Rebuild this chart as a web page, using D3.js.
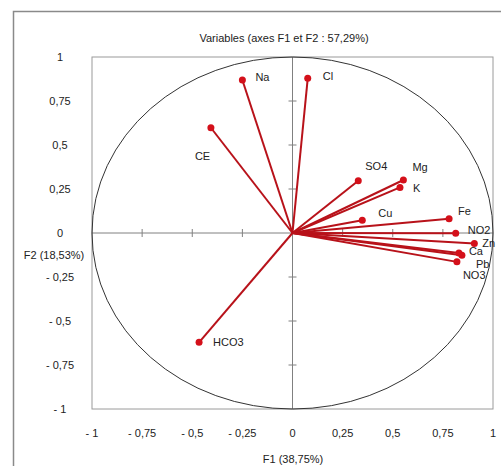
<!DOCTYPE html>
<html>
<head>
<meta charset="utf-8">
<script src="https://cdn.jsdelivr.net/npm/d3@7"></script>
<style>
  body { margin: 0; background: #fff; }
  text { font-family: "Liberation Sans", Arial, sans-serif; font-size: 11px; fill: #222; }
</style>
</head>
<body>
<svg width="501" height="466"></svg>
<script>
var names = ["Na", "Cl", "CE", "SO4", "Mg", "K", "Cu", "Fe", "NO2", "Zn", "Ca", "Pb", "NO3", "HCO3"];
var f1 = [-0.250, 0.076, -0.407, 0.328, 0.553, 0.536, 0.348, 0.781, 0.814, 0.907, 0.845, 0.830, 0.820, -0.466];
var f2 = [0.869, 0.879, 0.598, 0.297, 0.301, 0.259, 0.072, 0.081, -0.002, -0.059, -0.127, -0.114, -0.164, -0.621];
var tickVals = [-1, -0.75, -0.5, -0.25, 0, 0.25, 0.5, 0.75, 1];
var tickText = ["- 1", "- 0,75", "- 0,5", "- 0,25", "0", "0,25", "0,5", "0,75", "1"];

// label offsets from the point (dx, dy)
var labelOff = {
  Na: [13, 1], Cl: [15, 2], CE: [-16, 32], SO4: [7, -11], Mg: [9, -9], K: [13, 5],
  Cu: [16, -3], Fe: [9, -4], NO2: [12, 1], Zn: [8, 4], Ca: [7, 0], Pb: [17, 15],
  NO3: [6, 17], HCO3: [14, 4]
};

var svg = d3.select("svg");

var x = d3.scaleLinear().domain([-1, 1]).range([92, 493]);
var y = d3.scaleLinear().domain([-1, 1]).range([409, 57]);

// outer frame
svg.append("rect")
  .attr("x", 13.5).attr("y", 11.5)
  .attr("width", 520).attr("height", 480)
  .attr("fill", "none").attr("stroke", "#8a8a8a").attr("stroke-width", 1.5);

svg.append("text")
  .attr("x", 284).attr("y", 42)
  .attr("text-anchor", "middle")
  .text("Variables (axes F1 et F2 : 57,29%)");

// plot area
svg.append("rect")
  .attr("x", x(-1)).attr("y", y(1))
  .attr("width", x(1) - x(-1)).attr("height", y(-1) - y(1))
  .attr("fill", "none").attr("stroke", "#9a9a9a").attr("stroke-width", 1);

// axes through origin
svg.append("line")
  .attr("x1", x(-1)).attr("x2", x(1)).attr("y1", y(0)).attr("y2", y(0))
  .attr("stroke", "#808080");
svg.append("line")
  .attr("x1", x(0)).attr("x2", x(0)).attr("y1", y(1)).attr("y2", y(-1))
  .attr("stroke", "#808080");

var inner = tickVals.filter(function(d) { return d != 0 && Math.abs(d) != 1; });
svg.selectAll(".xt").data(inner).enter().append("line")
  .attr("x1", function(d) { return x(d); }).attr("x2", function(d) { return x(d); })
  .attr("y1", y(0) - 4).attr("y2", y(0) + 4)
  .attr("stroke", "#808080");
svg.selectAll(".yt").data(inner).enter().append("line")
  .attr("y1", function(d) { return y(d); }).attr("y2", function(d) { return y(d); })
  .attr("x1", x(0) - 4).attr("x2", x(0) + 4)
  .attr("stroke", "#808080");

// correlation circle
svg.append("ellipse")
  .attr("cx", x(0)).attr("cy", y(0))
  .attr("rx", x(1) - x(0)).attr("ry", y(0) - y(1))
  .attr("fill", "none").attr("stroke", "#333").attr("stroke-width", 1);

// tick labels
svg.selectAll(".xl").data(tickVals).enter().append("text")
  .attr("x", function(d) { return x(d); })
  .attr("y", 437)
  .attr("text-anchor", "middle")
  .text(function(d, i) { return tickText[i]; });
svg.selectAll(".yl").data(tickVals).enter().append("text")
  .attr("x", 60)
  .attr("y", function(d) { return y(d) + 4; })
  .attr("text-anchor", "middle")
  .text(function(d, i) { return tickText[i]; });

svg.append("text").attr("x", 293).attr("y", 463).attr("text-anchor", "middle").text("F1 (38,75%)");
svg.append("text").attr("x", 54).attr("y", 259).attr("text-anchor", "middle").text("F2 (18,53%)");

// vectors
var vars = names.map(function(n, i) { return { name: n, a: f1[i], b: f2[i] }; });

svg.selectAll(".vec").data(vars).enter().append("line")
  .attr("x1", x(0)).attr("y1", y(0))
  .attr("x2", function(d) { return x(d.a); })
  .attr("y2", function(d) { return y(d.b); })
  .attr("stroke", "#b8121a").attr("stroke-width", 2);

svg.selectAll(".pt").data(vars).enter().append("circle")
  .attr("cx", function(d) { return x(d.a); })
  .attr("cy", function(d) { return y(d.b); })
  .attr("r", 3.5)
  .attr("fill", "#d4101a");

svg.selectAll(".lab").data(vars).enter().append("text")
  .attr("x", function(d) { return x(d.a) + labelOff[d.name][0]; })
  .attr("y", function(d) { return y(d.b) + labelOff[d.name][1]; })
  .text(function(d) { return d.name; });
</script>
</body>
</html>
